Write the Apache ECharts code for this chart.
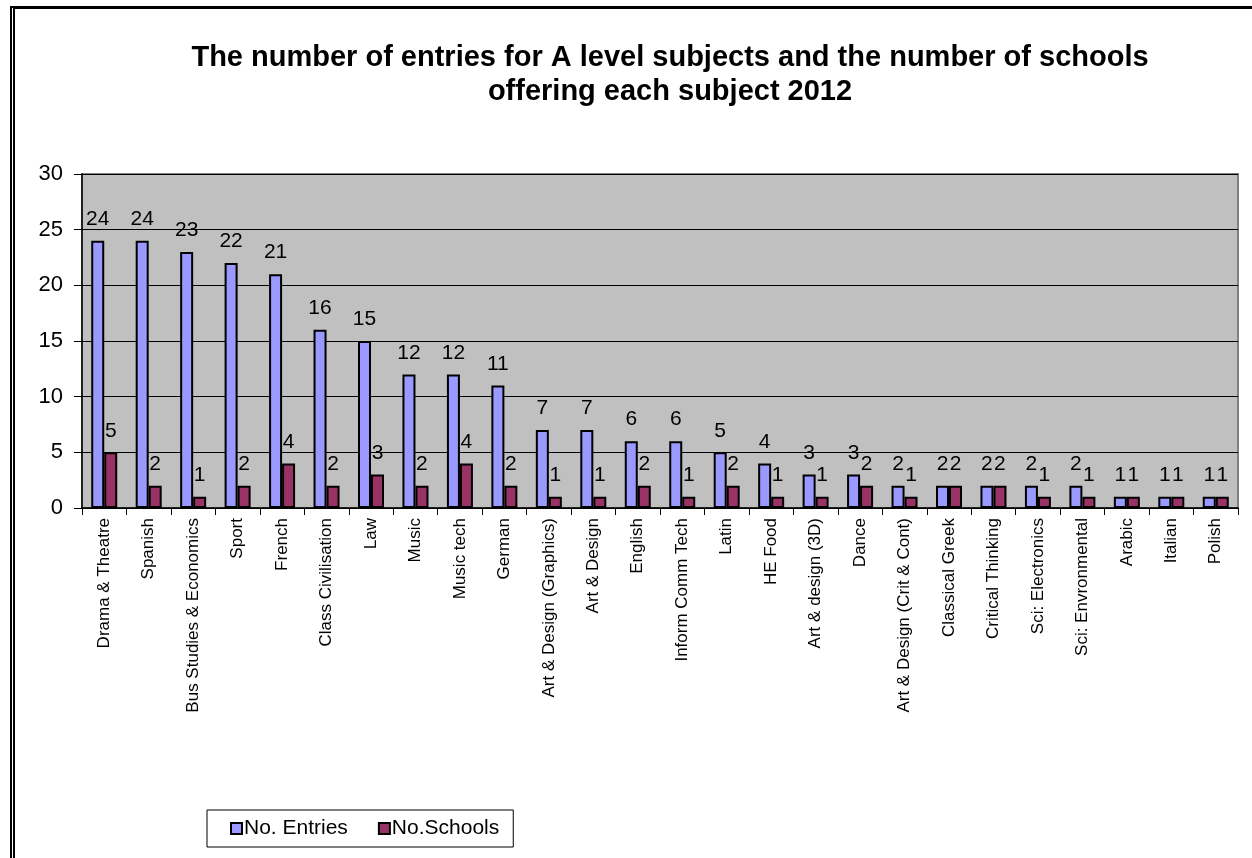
<!DOCTYPE html>
<html>
<head>
<meta charset="utf-8">
<script src="https://cdn.jsdelivr.net/npm/echarts@6/dist/echarts.min.js"></script>
<style>
  html, body { margin: 0; padding: 0; background: #fff; }
  #main { width: 1252px; height: 858px; }
  #frame {
    position: absolute; left: 10px; top: 6px; width: 1260px; height: 870px;
    border-left: 5px double #000; border-top: 3px solid #000;
    pointer-events: none;
  }
</style>
</head>
<body>
<div id="main"></div>
<div id="frame"></div>
<script>
const subjects = [
  'Drama & Theatre', 'Spanish', 'Bus Studies & Economics', 'Sport', 'French',
  'Class Civilisation', 'Law', 'Music', 'Music tech', 'German',
  'Art & Design (Graphics)', 'Art & Design', 'English', 'Inform Comm Tech', 'Latin',
  'HE Food', 'Art & design (3D)', 'Dance', 'Art & Design (Crit & Cont)', 'Classical Greek',
  'Critical Thinking', 'Sci: Electronics', 'Sci: Envronmental', 'Arabic', 'Italian', 'Polish'
]
const entries = [24, 24, 23, 22, 21, 16, 15, 12, 12, 11, 7, 7, 6, 6, 5, 4, 3, 3, 2, 2, 2, 2, 2, 1, 1, 1]
const schools = [5, 2, 1, 2, 4, 2, 3, 2, 4, 2, 1, 1, 2, 1, 2, 1, 1, 2, 1, 2, 2, 1, 1, 1, 1, 1]

const font = 'Liberation Sans, Arial, sans-serif'
let myChart = echarts.init(document.getElementById('main'))

let option = {
  animation: false,
  textStyle: { fontFamily: font },
  title: {
    text: 'The number of entries for A level subjects and the number of schools\noffering each subject 2012',
    left: 665,
    textAlign: 'center',
    top: 36,
    textStyle: { fontSize: 29, fontWeight: 'bold', color: '#000', lineHeight: 34, fontFamily: font }
  },
  legend: {
    left: 207,
    top: 810,
    width: 311,
    height: 20,
    padding: [8, 14, 8, 23],
    itemGap: 30,
    itemWidth: 11,
    itemHeight: 11,
    borderColor: '#000',
    borderWidth: 1,
    icon: 'rect',
    textStyle: { fontSize: 21, color: '#000', padding: [0, 0, 0, -3], fontFamily: font },
    data: ['No. Entries', 'No.Schools']
  },
  grid: {
    left: 82, right: 14, top: 174, bottom: 350,
    show: true, backgroundColor: '#C0C0C0', borderColor: '#808080', borderWidth: 2
  },
  xAxis: {
    type: 'category',
    data: subjects,
    axisLine: { lineStyle: { color: '#000', width: 1.5 } },
    axisTick: { show: true, length: 7, lineStyle: { color: '#000' } },
    axisLabel: { rotate: 90, fontSize: 17, color: '#000', margin: 10, interval: 0, fontFamily: font }
  },
  yAxis: {
    type: 'value',
    min: 0, max: 30, interval: 5,
    axisLine: { show: true, lineStyle: { color: '#000', width: 1.5 } },
    axisTick: { show: true, length: 8, lineStyle: { color: '#000' } },
    axisLabel: { fontSize: 22, color: '#000', margin: 19, fontFamily: font },
    splitLine: { lineStyle: { color: '#000', width: 1 } }
  },
  series: [
    {
      name: 'No. Entries',
      type: 'bar',
      data: entries,
      barWidth: 13,
      barGap: '0%',
      itemStyle: { color: '#9999FF', borderColor: '#000', borderWidth: 2 },
      label: { show: true, position: 'top', fontSize: 21, color: '#000', distance: 11, fontFamily: font }
    },
    {
      name: 'No.Schools',
      type: 'bar',
      data: schools,
      barWidth: 13,
      itemStyle: { color: '#993366', borderColor: '#000', borderWidth: 2 },
      label: { show: true, position: 'top', fontSize: 21, color: '#000', distance: 11, fontFamily: font }
    }
  ]
}
myChart.setOption(option)
</script>
</body>
</html>
